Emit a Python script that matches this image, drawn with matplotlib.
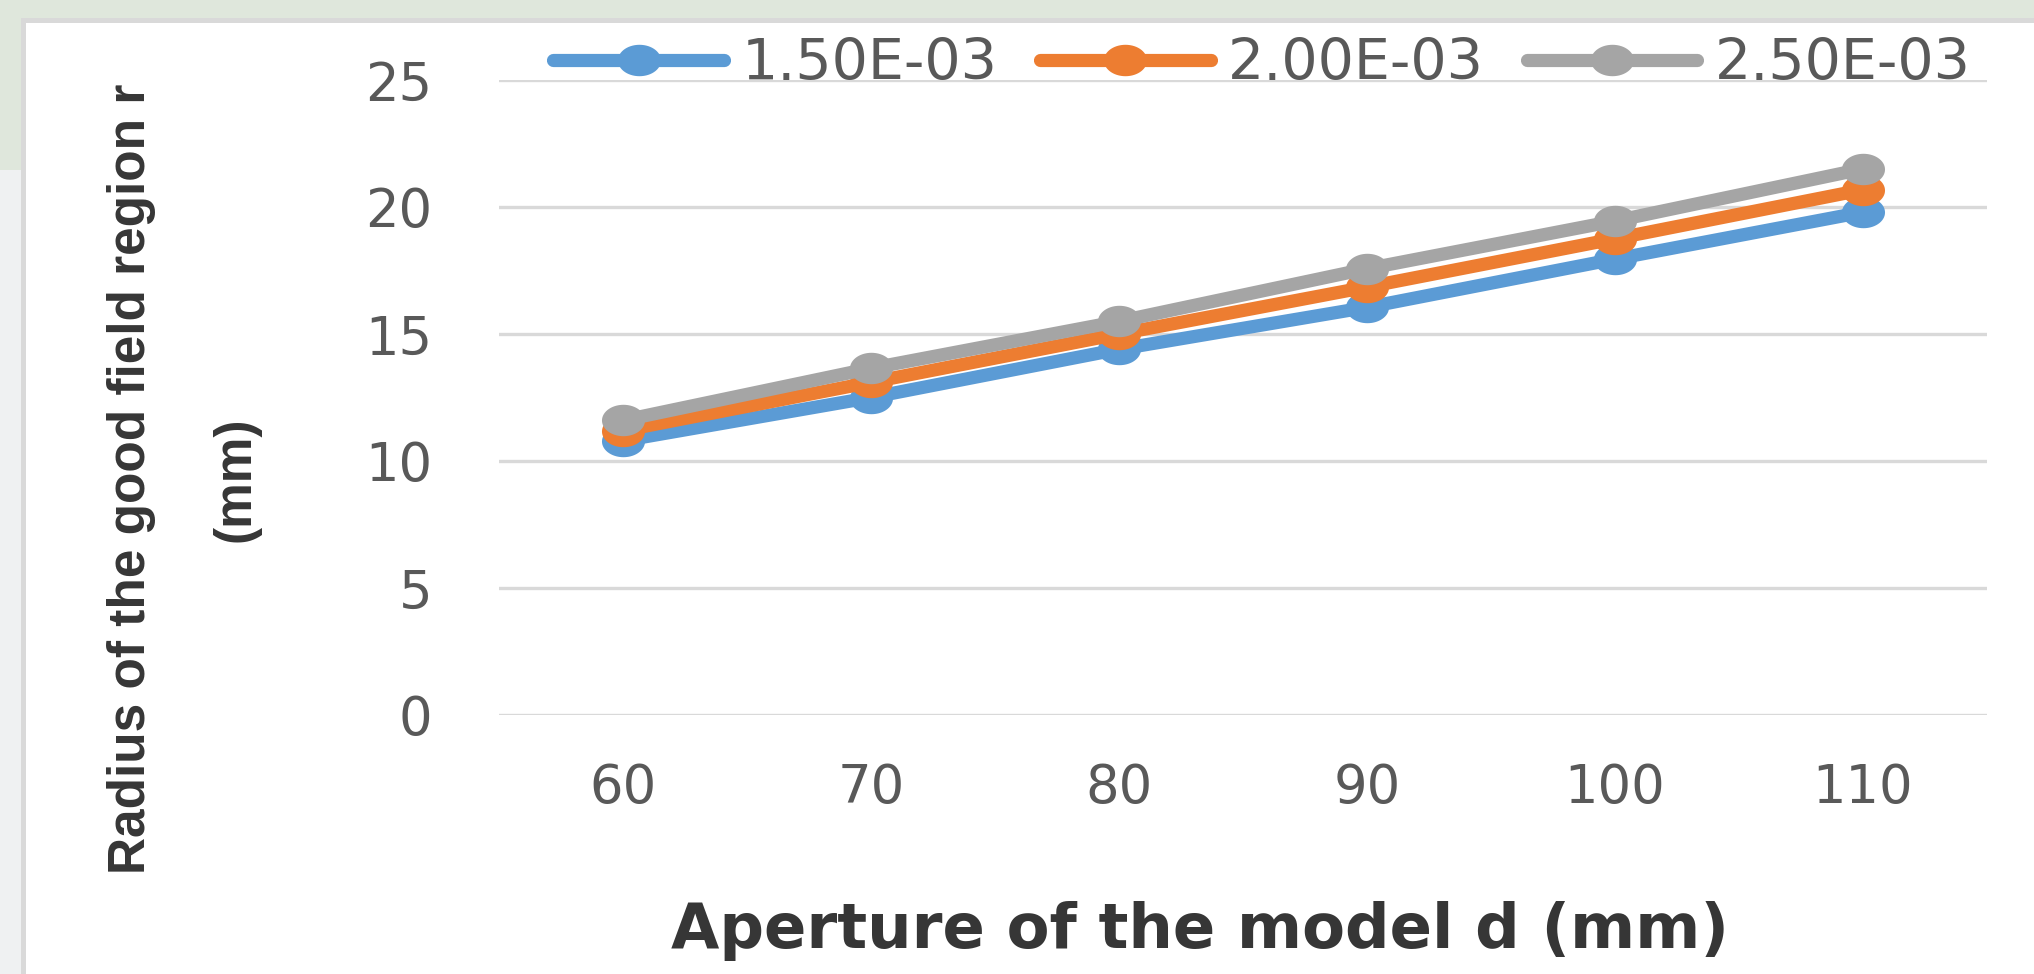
import numpy as np
import matplotlib
matplotlib.use("Agg")
import matplotlib.pyplot as plt
from matplotlib.path import Path
from matplotlib.patches import Rectangle

# ---- data -------------------------------------------------------------
apertures = ["60", "70", "80", "90", "100", "110"]
series_labels = ["1.50E-03", "2.00E-03", "2.50E-03"]
radius_150 = [10.8, 12.5, 14.4, 16.05, 17.95, 19.8]
radius_200 = [11.2, 13.1, 15.0, 16.85, 18.75, 20.68]
radius_250 = [11.6, 13.65, 15.5, 17.57, 19.45, 21.5]
y_ticks = [0, 5, 10, 15, 20, 25]

colors = ["#5b9bd5", "#ed7d31", "#a5a5a5"]
tick_color = "#595959"
title_color = "#363636"

# elliptical marker (wider than tall)
theta = np.linspace(0, 2 * np.pi, 61)
ellipse = Path(np.column_stack([np.cos(theta), 0.73 * np.sin(theta)]), closed=True)

W, H = 2034, 974
fig = plt.figure(figsize=(W / 100, H / 100), dpi=100)
fig.patch.set_facecolor("#dfe7dc")

# backdrop strips and white chart panel
fig.add_artist(Rectangle((0, 0), 21 / W, 1 - 170 / H, transform=fig.transFigure,
                         facecolor="#eff1f2", edgecolor="none", zorder=-3))
fig.add_artist(Rectangle((23 / W, -0.05), 1.1, (H - 20) / H + 0.05,
                         transform=fig.transFigure, facecolor="white",
                         edgecolor="#d9d9d9", linewidth=3.6, zorder=-2))

ax = fig.add_axes([499 / W, 1 - 715 / H, (1987 - 499) / W, (715 - 80) / H])
ax.set_facecolor("none")

x = np.arange(len(apertures))
for vals, lab, col in zip([radius_150, radius_200, radius_250], series_labels, colors):
    ax.plot(x, vals, color=col, linewidth=9.5, solid_capstyle="round",
            solid_joinstyle="round", marker=ellipse, markersize=31,
            markeredgewidth=0, markerfacecolor=col, label=lab, clip_on=False,
            zorder=3)

ax.set_xlim(-0.5, len(apertures) - 0.5)
ax.set_ylim(0, 25)
ax.set_xticks(x)
ax.set_xticklabels(apertures)
ax.set_yticks(y_ticks)
ax.yaxis.grid(True, color="#d9d9d9", linewidth=2.4)
ax.set_axisbelow(True)
for s in ax.spines.values():
    s.set_visible(False)
ax.tick_params(axis="both", length=0, labelsize=38, labelcolor=tick_color)
ax.tick_params(axis="y", pad=48)
ax.tick_params(axis="x", pad=34)
for t in ax.get_xticklabels() + ax.get_yticklabels():
    t.set_family("DejaVu Sans")

ax.set_xlabel("Aperture of the model d (mm)", fontsize=45, fontweight="bold",
              color=title_color, family="DejaVu Sans", va="center")
ax.xaxis.set_label_coords((1200 - 499) / 1488, ((H - 931) / H - (1 - 715 / H)) / ((715 - 80) / H))

ax.set_ylabel("Radius of the good field region r\n(mm)", fontsize=37,
              fontweight="bold", color=title_color, linespacing=2.45,
              family=["Liberation Sans"], va="center", ha="center")
ax.yaxis.set_label_coords(-(499 - 184) / 1488, ((H - 479) / H - (1 - 715 / H)) / ((715 - 80) / H))

leg = ax.legend(loc="center", bbox_to_anchor=(1262 / W, 1 - 64 / H),
                bbox_transform=fig.transFigure, ncol=3, frameon=False,
                fontsize=41, handlelength=3.0, handletextpad=0.3,
                columnspacing=0.75, borderpad=0, borderaxespad=0)
for t in leg.get_texts():
    t.set_color(tick_color)
    t.set_family("DejaVu Sans")
leg.set_zorder(5)

fig.savefig("out.png", dpi=100, facecolor=fig.get_facecolor())
